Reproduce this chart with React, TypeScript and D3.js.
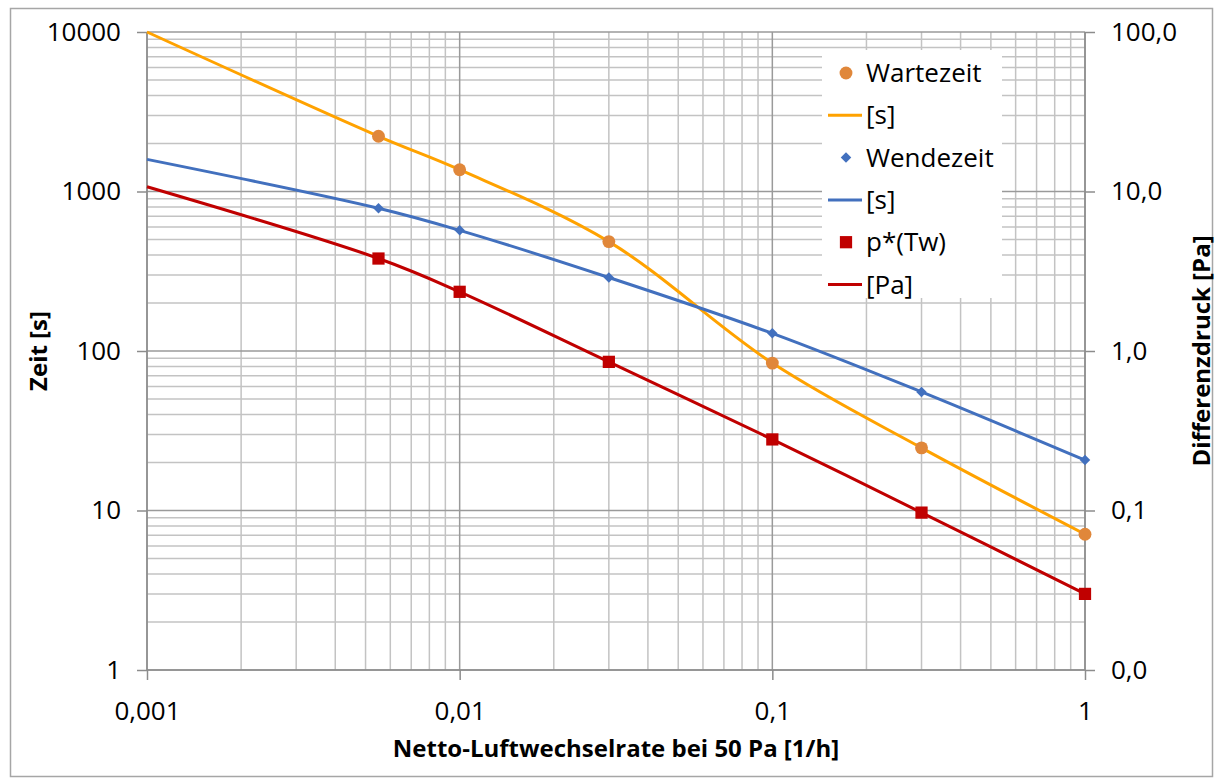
import React, { useEffect, useRef } from "react";
import * as d3 from "d3";

// x values (1/h) - first entry only used for the curves
const rates = [0.001, 0.0055, 0.01, 0.03, 0.1, 0.3, 1];
// Wartezeit [s]
const wartezeit = [10000, 2220, 1370, 485, 84, 24.7, 7.1];
// Wendezeit [s]
const wendezeit = [1590, 785, 571, 289, 129, 55.4, 20.7];
// p*(Tw) [Pa], right axis
const pTw = [10.7, 3.8, 2.35, 0.855, 0.279, 0.097, 0.03];

const xTicks = [0.001, 0.01, 0.1, 1];
const yTicks = [1, 10, 100, 1000, 10000];
const yRightTicks = [0.01, 0.1, 1, 10, 100];

const legendItems = [
  { label: "Wartezeit", kind: "circle", color: "#E0873A" },
  { label: "[s]", kind: "line", color: "#FFA200" },
  { label: "Wendezeit", kind: "diamond", color: "#4270BE" },
  { label: "[s]", kind: "line", color: "#4270BE" },
  { label: "p*(Tw)", kind: "square", color: "#C00000" },
  { label: "[Pa]", kind: "line", color: "#C00000" },
];

const W = 1216;
const H = 782;

const App = () => {
  const svgRef = useRef<SVGSVGElement | null>(null);

  useEffect(() => {
    const svg = d3.select(svgRef.current);
    svg.selectAll("*").remove();

    const margin = { left: 147, right: W - 1085, top: 32, bottom: H - 670 };
    const font = "'Open Sans', sans-serif";

    const x = d3.scaleLog().domain([0.001, 1]).range([margin.left, W - margin.right]);
    const y = d3.scaleLog().domain([1, 10000]).range([H - margin.bottom, margin.top]);
    const y2 = d3.scaleLog().domain([0.01, 100]).range([H - margin.bottom, margin.top]);

    // chart frame
    svg.append("rect")
      .attr("x", 10.5).attr("y", 8.5)
      .attr("width", W - 14).attr("height", H - 14)
      .attr("fill", "white").attr("stroke", "#A6A6A6").attr("stroke-width", 1.5);

    // minor grid
    const minorX: number[] = [];
    const minorY: number[] = [];
    [0.001, 0.01, 0.1].forEach(d => { for (let k = 2; k <= 9; k++) minorX.push(d * k); });
    [1, 10, 100, 1000].forEach(d => { for (let k = 2; k <= 9; k++) minorY.push(d * k); });

    const grid = svg.append("g");
    grid.selectAll(".mx").data(minorX).join("line")
      .attr("x1", d => x(d)).attr("x2", d => x(d))
      .attr("y1", y(1)).attr("y2", y(10000))
      .attr("stroke", "#C3C3C3").attr("stroke-width", 1.5);
    grid.selectAll(".my").data(minorY).join("line")
      .attr("x1", x(0.001)).attr("x2", x(1))
      .attr("y1", d => y(d)).attr("y2", d => y(d))
      .attr("stroke", "#C3C3C3").attr("stroke-width", 1.5);
    // major grid
    grid.selectAll(".Mx").data(xTicks).join("line")
      .attr("x1", d => x(d)).attr("x2", d => x(d))
      .attr("y1", y(1)).attr("y2", y(10000))
      .attr("stroke", "#9A9A9A").attr("stroke-width", 1.5);
    grid.selectAll(".My").data(yTicks).join("line")
      .attr("x1", x(0.001)).attr("x2", x(1))
      .attr("y1", d => y(d)).attr("y2", d => y(d))
      .attr("stroke", "#9A9A9A").attr("stroke-width", 1.5);

    // axes
    const fmtComma = (f: string) => (d: number) => d3.format(f)(d).replace(".", ",");
    const xAxis = svg.append("g")
      .attr("transform", `translate(0, ${y(1)})`)
      .call(d3.axisBottom(x).tickValues(xTicks).tickSize(10).tickPadding(22)
        .tickFormat(d => String(d).replace(".", ",")));
    const yAxis = svg.append("g")
      .attr("transform", `translate(${x(0.001)}, 0)`)
      .call(d3.axisLeft(y).tickValues(yTicks).tickSize(10).tickPadding(16)
        .tickFormat(d => String(d)));
    const yAxis2 = svg.append("g")
      .attr("transform", `translate(${x(1)}, 0)`)
      .call(d3.axisRight(y2).tickValues(yRightTicks).tickSize(10).tickPadding(16)
        .tickFormat(fmtComma(".1f") as any));

    [xAxis, yAxis, yAxis2].forEach(g => {
      g.select(".domain").attr("stroke", "#8C8C8C").attr("stroke-width", 1.5);
      g.selectAll(".tick line").attr("stroke", "#8C8C8C").attr("stroke-width", 1.5);
      g.selectAll(".tick text").attr("fill", "#000").attr("font-family", font).attr("font-size", 26);
    });
    xAxis.select(".domain").attr("d", `M${x(0.001)},0H${x(1)}`);
    yAxis.select(".domain").attr("d", `M0,${y(1)}V${y(10000)}`);
    yAxis2.select(".domain").attr("d", `M0,${y2(0.01)}V${y2(100)}`);

    // axis titles
    svg.append("text")
      .attr("x", (x(0.001) + x(1)) / 2).attr("y", 757)
      .attr("text-anchor", "middle").attr("font-family", font)
      .attr("font-weight", "bold").attr("font-size", 24)
      .text("Netto-Luftwechselrate bei 50 Pa [1/h]");
    svg.append("text")
      .attr("transform", `translate(47, ${(y(1) + y(10000)) / 2}) rotate(-90)`)
      .attr("text-anchor", "middle").attr("font-family", font)
      .attr("font-weight", "bold").attr("font-size", 24)
      .text("Zeit [s]");
    svg.append("text")
      .attr("transform", `translate(1210, ${(y(1) + y(10000)) / 2}) rotate(-90)`)
      .attr("text-anchor", "middle").attr("font-family", font)
      .attr("font-weight", "bold").attr("font-size", 24)
      .text("Differenzdruck [Pa]");

    // curves
    const series = [
      { vals: wartezeit, sc: y, line: "#FFA200", marker: "#E0873A", kind: "circle" },
      { vals: wendezeit, sc: y, line: "#4270BE", marker: "#4270BE", kind: "diamond" },
      { vals: pTw, sc: y2, line: "#C00000", marker: "#C00000", kind: "square" },
    ];
    const symbolOf = (k: string, s: number) =>
      k === "circle" ? d3.symbol(d3.symbolCircle, s)
        : k === "diamond" ? d3.symbol(d3.symbolDiamond2, s)
          : d3.symbol(d3.symbolSquare, s);
    const sizeOf = (k: string) => (k === "circle" ? 130 : k === "diamond" ? 70 : 150);

    series.forEach(s => {
      const pts = rates.map((r, i) => [r, s.vals[i]] as [number, number]);
      svg.append("path")
        .datum(pts)
        .attr("fill", "none").attr("stroke", s.line).attr("stroke-width", 3)
        .attr("d", d3.line<[number, number]>()
          .x(d => x(d[0])).y(d => s.sc(d[1]))
          .curve(d3.curveCatmullRom.alpha(0.5)));
    });
    series.forEach(s => {
      const pts = rates.slice(1).map((r, i) => [r, s.vals[i + 1]] as [number, number]);
      svg.append("g").selectAll("path").data(pts).join("path")
        .attr("transform", d => `translate(${x(d[0])}, ${s.sc(d[1])})`)
        .attr("d", symbolOf(s.kind, sizeOf(s.kind))() as string)
        .attr("fill", s.marker);
    });

    // legend
    const lg = svg.append("g").attr("transform", "translate(822, 50)");
    lg.append("rect").attr("width", 180).attr("height", 248).attr("fill", "white");
    legendItems.forEach((it, i) => {
      const cy = 23 + i * 42.3;
      if (it.kind === "line") {
        lg.append("line").attr("x1", 6).attr("x2", 40).attr("y1", cy).attr("y2", cy)
          .attr("stroke", it.color).attr("stroke-width", 3);
      } else {
        lg.append("path").attr("transform", `translate(24, ${cy})`)
          .attr("d", symbolOf(it.kind, sizeOf(it.kind))() as string).attr("fill", it.color);
      }
      lg.append("text").attr("x", 44).attr("y", cy).attr("dy", "0.35em")
        .attr("font-family", font).attr("font-size", 26).attr("fill", "#000")
        .text(it.label);
    });
  }, []);

  return <svg ref={svgRef} width={W} height={H}
    style={{ position: "absolute", left: 0, top: 0, background: "white" }} />;
};

export default App;
